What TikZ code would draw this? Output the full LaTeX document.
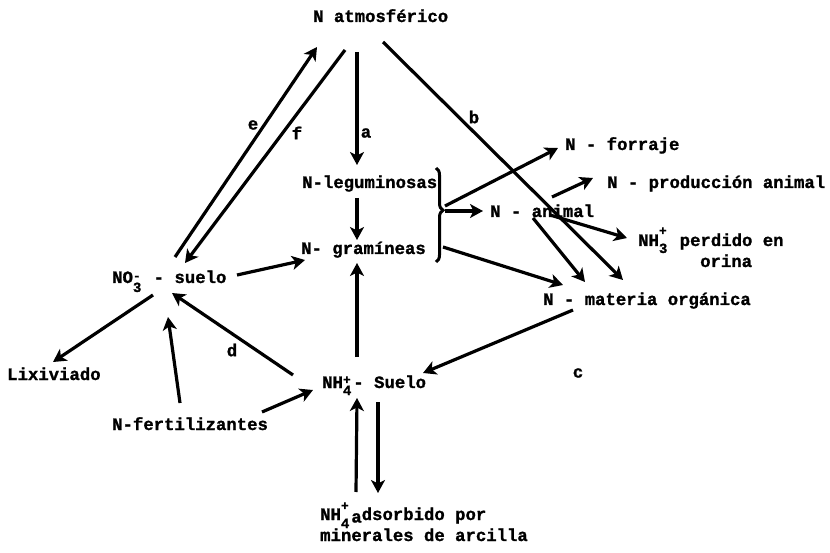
\documentclass[tikz,border=0pt]{standalone}
\usepackage{fontspec}
\setmonofont{Liberation Mono}[BoldFeatures={FakeBold=1.2}]
\usetikzlibrary{arrows.meta,decorations.pathreplacing}
% stacked super/subscript in one character cell
\newcommand{\ionst}[4]{\makebox[0.6em][l]{\rlap{\raisebox{#1}{\fontsize{13}{13}\selectfont#2}}\raisebox{#3}{\fontsize{14}{14}\selectfont#4}}}
\tikzset{
    txt/.style={font=\ttfamily\bfseries\fontsize{17.3}{20}\selectfont,inner sep=0pt,anchor=base west},
    flow/.style={line width=3.2pt,-{Stealth[length=13pt,width=14pt,inset=3.5pt]}},
    bare/.style={line width=3pt}
}
\begin{document}
\begin{tikzpicture}[x=1pt,y=-1pt]
        \useasboundingbox (0,0) rectangle (830,553);
        %% texts
        \node[txt] (atm) at (313,22)  {N atmosférico};
        \node[txt] (leg) at (302,188) {N-leguminosas};
        \node[txt] (grm) at (301,254) {N- gramíneas};
        \node[txt] (for) at (565,150) {N - forraje};
        \node[txt] (prd) at (607,188) {N - producción animal};
        \node[txt] (ani) at (490,217) {N - animal};
        \node[txt] (nh3) at (638,246) {NH\ionst{11pt}{+}{-7pt}{3} perdido en};
        \node[txt] (nh3b) at (700,267) {orina};
        \node[txt] (mat) at (543,305) {N - materia orgánica};
        \node[txt] (no3) at (112,283) {NO\ionst{3pt}{-}{-9pt}{3} - suelo};
        \node[txt] (lix) at (7,380)   {Lixiviado};
        \node[txt] (fer) at (112,430) {N-fertilizantes};
        \node[txt] (nh4) at (322,388) {NH\ionst{4pt}{+}{-7pt}{4}- Suelo};
        \node[txt] (ads) at (320,520) {NH\ionst{10pt}{+}{-8pt}{4}\raisebox{-2.5pt}{a}dsorbido por};
        \node[txt] (mnr) at (320,541) {minerales de arcilla};
        %% letters
        \node[txt,anchor=center] (la) at (366,133) {a};
        \node[txt,anchor=center] (lb) at (474,117) {b};
        \node[txt,anchor=center] (lc) at (578,373) {c};
        \node[txt,anchor=center] (ld) at (232,350) {d};
        \node[txt,anchor=center] (le) at (253,125) {e};
        \node[txt,anchor=center] (lf) at (297,133) {f};
        %% brace
        \coordinate (brc) at (445,210);
        \draw[bare,decorate,decoration={brace,amplitude=7pt,aspect=0.45}] (436,168) -- (436,262);
        %% atmosphere
        \draw[flow] ([shift={(63,-26)}]no3.base west) -- ([shift={(4,25)}]atm.base west);
        \draw[flow] ([shift={(32,28)}]atm.base west) -- ([shift={(73,-20)}]no3.base west);
        \draw[flow] ([shift={(44,30)}]atm.base west) -- ([shift={(55,-23)}]leg.base west);
        \draw[flow] ([shift={(70,20)}]atm.base west) -- ([shift={(80,-25)}]mat.base west);
        %% plants
        \draw[flow] ([shift={(55,10)}]leg.base west) -- ([shift={(56,-14)}]grm.base west);
        \draw[flow] ([shift={(0,-4)}]brc) -- ([shift={(-7,-2)}]for.base west);
        \draw[flow] ([shift={(0,1)}]brc) -- ([shift={(-7,-6)}]ani.base west);
        \draw[flow] ([shift={(-2,37)}]brc) -- ([shift={(20,-20)}]mat.base west);
        %% animal
        \draw[flow] ([shift={(62,-20)}]ani.base west) -- ([shift={(-14,-10)}]prd.base west);
        \draw[flow] ([shift={(60,-2)}]ani.base west) -- ([shift={(-11,-8)}]nh3.base west);
        \draw[flow] ([shift={(43,1)}]ani.base west) -- ([shift={(42,-23)}]mat.base west);
        %% soil
        \draw[flow] ([shift={(30,5)}]mat.base west) -- ([shift={(101,-15)}]nh4.base west);
        \draw[flow] ([shift={(125,-8)}]no3.base west) -- ([shift={(4,6)}]grm.base west);
        \draw[flow] ([shift={(41,12)}]no3.base west) -- ([shift={(46,-18)}]lix.base west);
        \draw[flow] ([shift={(68,-27)}]fer.base west) -- ([shift={(56,34)}]no3.base west);
        \draw[flow] ([shift={(150,-18)}]fer.base west) -- ([shift={(-9,2)}]nh4.base west);
        \draw[flow] ([shift={(-29,-13)}]nh4.base west) -- ([shift={(60,10)}]no3.base west);
        \draw[flow] ([shift={(35,-31)}]nh4.base west) -- ([shift={(56,9)}]grm.base west);
        %% clay
        \draw[flow] ([shift={(36,-28)}]ads.base west) -- ([shift={(35,10)}]nh4.base west);
        \draw[flow] ([shift={(56,14)}]nh4.base west) -- ([shift={(58,-27)}]ads.base west);
    \end{tikzpicture}
\end{document}
